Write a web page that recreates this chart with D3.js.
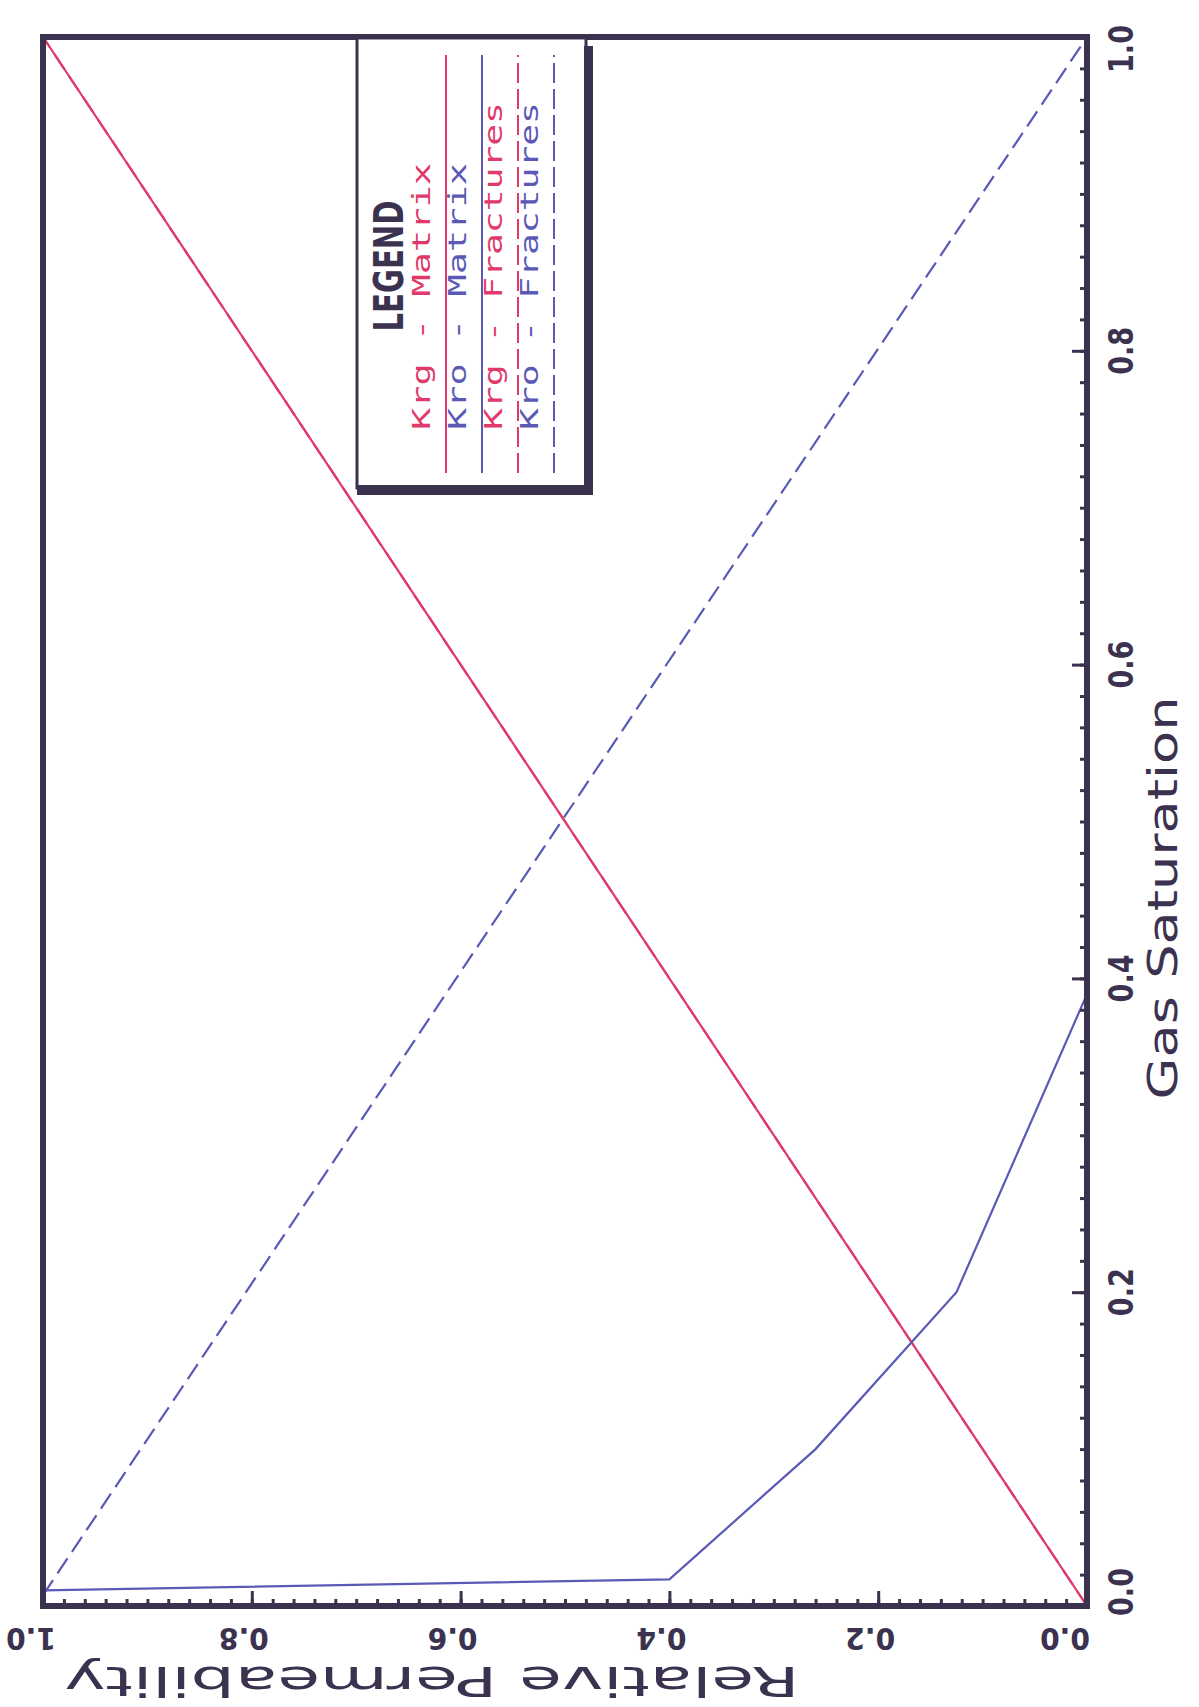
<!DOCTYPE html>
<html>
<head>
<meta charset="utf-8">
<script src="https://cdn.jsdelivr.net/npm/d3@7"></script>
<style>
  body { margin: 0; background: #ffffff; }
  svg { display: block; }
</style>
</head>
<body>
<svg id="chart" width="1199" height="1707"></svg>
<script>
// Relative permeability vs gas saturation, plotted on a page turned sideways:
// gas saturation runs up the page, relative permeability runs right-to-left.

const sgMajorTicks = [0.0, 0.2, 0.4, 0.6, 0.8, 1.0];
const kMajorTicks  = [0.0, 0.2, 0.4, 0.6, 0.8, 1.0];
const minorStep = 0.02;

const krgMatrixSg = [0.0, 1.0];
const krgMatrixK  = [0.0, 1.0];

const kroMatrixSg = [0.010, 0.017, 0.10, 0.20, 0.39, 1.0];
const kroMatrixK  = [1.00, 0.40, 0.26, 0.125, 0.0, 0.0];

const krgFracSg = [0.0, 1.0];
const krgFracK  = [0.0, 1.0];

const kroFracSg = [0.007, 1.0];
const kroFracK  = [1.0, 0.0];

const seriesNames = ["Krg - Matrix", "Kro - Matrix", "Krg - Fractures", "Kro - Fractures"];
const xTitle = "Gas Saturation";
const yTitle = "Relative Permeability";
const legendTitle = "LEGEND";

const INK = "#3b3250";
const RED = "#e03a6a";
const BLUE = "#5a5ab6";

const svg = d3.select("#chart");

// Saturation maps to vertical page position, permeability to horizontal.
const sg = d3.scaleLinear().domain([0, 1]).range([1606, 37]);
const kr = d3.scaleLinear().domain([0, 1]).range([1087, 43]);

const zip = (s, k) => s.map((v, i) => ({ s: v, k: k[i] }));
const line = d3.line().x(d => kr(d.k)).y(d => sg(d.s));

const series = [
  { name: seriesNames[2], data: zip(krgFracSg, krgFracK), color: RED, dash: "18,8" },
  { name: seriesNames[0], data: zip(krgMatrixSg, krgMatrixK), color: RED, dash: null },
  { name: seriesNames[3], data: zip(kroFracSg, kroFracK), color: BLUE, dash: "18,8" },
  { name: seriesNames[1], data: zip(kroMatrixSg, kroMatrixK), color: BLUE, dash: null }
];

const plot = svg.append("g");
plot.selectAll("path.series")
  .data(series)
  .join("path")
  .attr("class", "series")
  .attr("fill", "none")
  .attr("stroke", d => d.color)
  .attr("stroke-width", 2.2)
  .attr("stroke-dasharray", d => d.dash)
  .attr("d", d => line(d.data));

// Tick marks (pointing into the plot) along the saturation and permeability edges
const minorVals = d3.range(0, 50 + 1).map(i => +(i * minorStep).toFixed(2));

function styleTicks(g) {
  g.select(".domain").remove();
  g.selectAll(".tick line").attr("stroke", INK).attr("stroke-width", 3);
}

svg.append("g")
  .attr("transform", `translate(${kr(0)},0)`)
  .call(d3.axisRight(sg).tickValues(minorVals).tickSize(-7).tickFormat(""))
  .call(styleTicks);
svg.append("g")
  .attr("transform", `translate(${kr(0)},0)`)
  .call(d3.axisRight(sg).tickValues(sgMajorTicks).tickSize(-15).tickFormat(""))
  .call(styleTicks);

svg.append("g")
  .attr("transform", `translate(0,${sg(0)})`)
  .call(d3.axisBottom(kr).tickValues(minorVals).tickSize(-7).tickFormat(""))
  .call(styleTicks);
svg.append("g")
  .attr("transform", `translate(0,${sg(0)})`)
  .call(d3.axisBottom(kr).tickValues(kMajorTicks).tickSize(-15).tickFormat(""))
  .call(styleTicks);

// Plot frame
svg.append("rect")
  .attr("x", kr(1)).attr("y", sg(1))
  .attr("width", kr(0) - kr(1)).attr("height", sg(0) - sg(1))
  .attr("fill", "none").attr("stroke", INK).attr("stroke-width", 6);

const fmt = d3.format(".1f");
const labelFont = "'DejaVu Sans Condensed', 'DejaVu Sans', sans-serif";

// Saturation tick labels, reading up the page
svg.append("g").selectAll("text")
  .data(sgMajorTicks)
  .join("text")
  .attr("transform", d => `translate(1133,${sg(d) - (d === 0 ? 14 : d === 1 ? -12 : 0)}) rotate(-90)`)
  .attr("text-anchor", "middle")
  .attr("font-family", labelFont)
  .attr("font-weight", "bold")
  .attr("font-size", 33)
  .attr("fill", INK)
  .attr("textLength", 48)
  .attr("lengthAdjust", "spacingAndGlyphs")
  .text(fmt);

// Permeability tick labels, upside down below the frame
svg.append("g").selectAll("text")
  .data(kMajorTicks)
  .join("text")
  .attr("transform", d => `translate(${kr(d) - (d === 0 ? 22 : d === 1 ? 12 : 8)},1628) rotate(180)`)
  .attr("text-anchor", "middle")
  .attr("font-family", labelFont)
  .attr("font-weight", "bold")
  .attr("font-size", 30)
  .attr("fill", INK)
  .attr("textLength", 50)
  .attr("lengthAdjust", "spacingAndGlyphs")
  .text(fmt);

// Axis titles
svg.append("text")
  .attr("transform", "translate(1177,898) rotate(-90)")
  .attr("text-anchor", "middle")
  .attr("font-family", "'DejaVu Sans', sans-serif")
  .attr("font-size", 41)
  .attr("fill", INK)
  .attr("textLength", 403)
  .attr("lengthAdjust", "spacingAndGlyphs")
  .text(xTitle);

svg.append("text")
  .attr("transform", "translate(432,1667) rotate(180)")
  .attr("text-anchor", "middle")
  .attr("font-family", "'DejaVu Sans', sans-serif")
  .attr("font-size", 41)
  .attr("fill", INK)
  .attr("textLength", 735)
  .attr("lengthAdjust", "spacingAndGlyphs")
  .text(yTitle);

// Legend box with heavy shadow on its right and lower edges
const lg = svg.append("g");
lg.append("rect")
  .attr("x", 357).attr("y", 38).attr("width", 229).attr("height", 450)
  .attr("fill", "#ffffff").attr("stroke", INK).attr("stroke-width", 3);
lg.append("rect").attr("x", 584).attr("y", 46).attr("width", 9).attr("height", 449).attr("fill", INK);
lg.append("rect").attr("x", 357).attr("y", 485).attr("width", 236).attr("height", 10).attr("fill", INK);

lg.append("text")
  .attr("transform", "translate(403,266) rotate(-90)")
  .attr("text-anchor", "middle")
  .attr("font-family", labelFont)
  .attr("font-weight", "bold")
  .attr("font-size", 41)
  .attr("fill", INK)
  .attr("textLength", 131)
  .attr("lengthAdjust", "spacingAndGlyphs")
  .text(legendTitle);

const legendItems = [
  { name: seriesNames[0], color: RED, dash: null, len: 267 },
  { name: seriesNames[1], color: BLUE, dash: null, len: 267 },
  { name: seriesNames[2], color: RED, dash: "20,6", len: 328 },
  { name: seriesNames[3], color: BLUE, dash: "20,6", len: 328 }
];

const entry = lg.selectAll("g.entry")
  .data(legendItems)
  .join("g")
  .attr("class", "entry")
  .attr("transform", (d, i) => `translate(${i * 36},0)`);

entry.append("line")
  .attr("x1", 446).attr("x2", 446)
  .attr("y1", 473).attr("y2", 55)
  .attr("stroke", d => d.color)
  .attr("stroke-width", 2)
  .attr("stroke-dasharray", d => d.dash);

entry.append("text")
  .attr("transform", "translate(430,430) rotate(-90)")
  .attr("text-anchor", "start")
  .attr("font-family", "'DejaVu Sans Mono', monospace")
  .attr("font-size", 25)
  .attr("fill", d => d.color)
  .attr("textLength", d => d.len)
  .attr("lengthAdjust", "spacingAndGlyphs")
  .text(d => d.name);
</script>
</body>
</html>
